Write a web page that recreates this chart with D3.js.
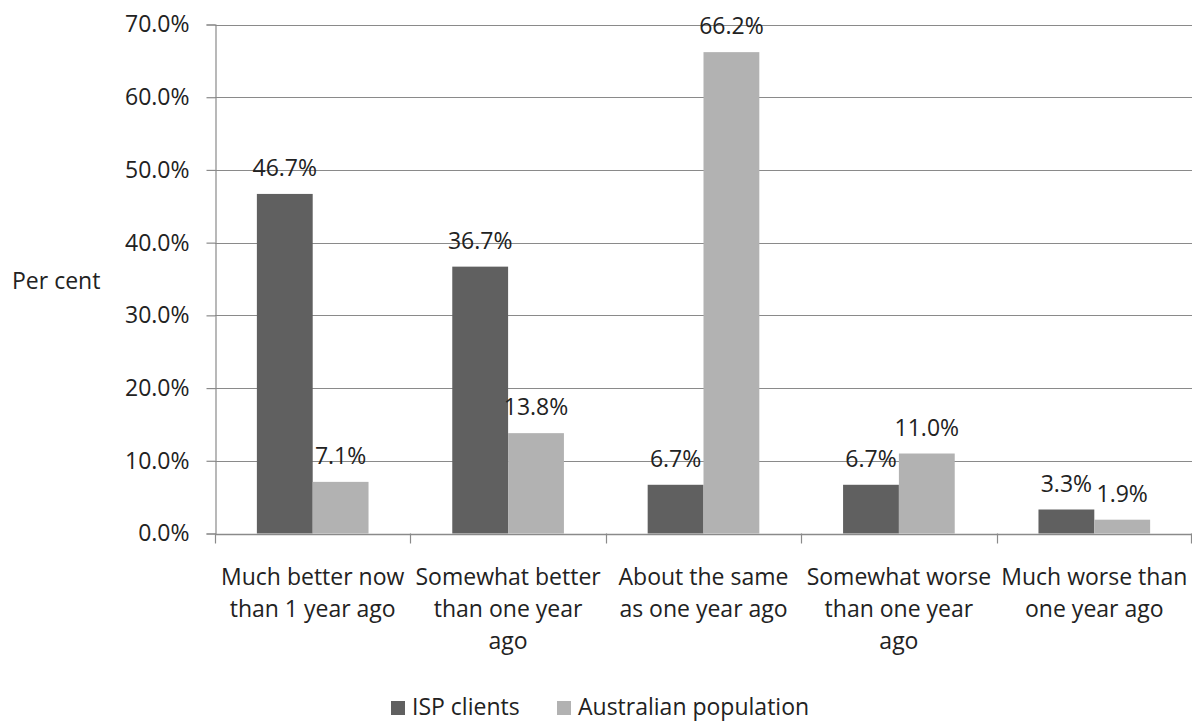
<!DOCTYPE html>
<html>
<head>
<meta charset="utf-8">
<script src="https://cdn.jsdelivr.net/npm/d3@7"></script>
<style>
  html, body { margin: 0; padding: 0; background: #ffffff; }
  svg text { font-family: "Open Sans", "Noto Sans", sans-serif; fill: #222222; }
</style>
</head>
<body>
<svg id="chart" width="1192" height="722"></svg>
<script>
// Self-rated change in circumstances compared with one year earlier
const categories = [
  ["Much better now", "than 1 year ago"],
  ["Somewhat better", "than one year", "ago"],
  ["About the same", "as one year ago"],
  ["Somewhat worse", "than one year", "ago"],
  ["Much worse than", "one year ago"]
];
const seriesNames = ["ISP clients", "Australian population"];
const ispClients = [0.467, 0.367, 0.067, 0.067, 0.033];
const australianPopulation = [0.071, 0.138, 0.662, 0.110, 0.019];
const yTicks = [0, 0.1, 0.2, 0.3, 0.4, 0.5, 0.6, 0.7];
const seriesColors = ["#606060", "#b2b2b2"];

const svg = d3.select("#chart");
const fontSize = 23;
const gridColor = "#8a8a8a";

const plot = { left: 215, right: 1192, top: 24.5, bottom: 533.5 };

const catKeys = categories.map((c, i) => i);
const x0 = d3.scaleBand().domain(catKeys).range([plot.left, plot.right]).padding(0);
const x1 = d3.scaleBand().domain(seriesNames).range([0, x0.bandwidth()])
  .paddingInner(0).paddingOuter(0.75);
const y = d3.scaleLinear().domain([0, 0.7]).range([plot.bottom, plot.top]);
const color = d3.scaleOrdinal().domain(seriesNames).range(seriesColors);
const pct = d3.format(".1%");

// Horizontal gridlines
svg.append("g")
  .selectAll("line")
  .data(yTicks.filter(d => d > 0))
  .join("line")
  .attr("x1", plot.left).attr("x2", plot.right)
  .attr("y1", d => Math.round(y(d)) + 0.5).attr("y2", d => Math.round(y(d)) + 0.5)
  .attr("stroke", gridColor).attr("stroke-width", 1.2);

// Y axis
const yAxis = svg.append("g")
  .attr("transform", `translate(${plot.left + 0.5},0)`)
  .call(d3.axisLeft(y).tickValues(yTicks).tickFormat(pct).tickSize(9).tickPadding(17));
yAxis.select(".domain").attr("stroke", gridColor).attr("stroke-width", 1.2);
yAxis.selectAll(".tick line").attr("stroke", gridColor).attr("stroke-width", 1.2);
yAxis.selectAll(".tick text")
  .style("font-size", fontSize + "px")
  .style("font-family", '"Open Sans", sans-serif')
  .attr("fill", "#222222");
yAxis.attr("font-size", null).attr("font-family", null);

// Bars
const data = categories.map((c, i) => ({
  key: i,
  values: [
    { series: seriesNames[0], value: ispClients[i] },
    { series: seriesNames[1], value: australianPopulation[i] }
  ]
}));

const groups = svg.append("g")
  .selectAll("g")
  .data(data)
  .join("g")
  .attr("transform", d => `translate(${x0(d.key)},0)`);

groups.selectAll("rect")
  .data(d => d.values)
  .join("rect")
  .attr("x", d => x1(d.series))
  .attr("width", x1.bandwidth())
  .attr("y", d => y(d.value))
  .attr("height", d => y(0) - y(d.value))
  .attr("fill", d => color(d.series));

groups.selectAll("text.value")
  .data(d => d.values)
  .join("text")
  .attr("class", "value")
  .attr("x", d => x1(d.series) + x1.bandwidth() / 2)
  .attr("y", d => y(d.value) - 18)
  .attr("text-anchor", "middle")
  .style("font-size", fontSize + "px")
  .text(d => pct(d.value));

// X axis line with category boundary ticks
svg.append("line")
  .attr("x1", plot.left).attr("x2", plot.right)
  .attr("y1", Math.round(y(0)) + 0.5).attr("y2", Math.round(y(0)) + 0.5)
  .attr("stroke", gridColor).attr("stroke-width", 1.5);

const boundaries = catKeys.map(k => x0(k)).concat([plot.right - 1]);
svg.append("g")
  .selectAll("line")
  .data(boundaries)
  .join("line")
  .attr("x1", d => Math.round(d) + 0.5).attr("x2", d => Math.round(d) + 0.5)
  .attr("y1", y(0)).attr("y2", y(0) + 10)
  .attr("stroke", gridColor).attr("stroke-width", 1.2);

// Category labels
const catLabels = svg.append("g")
  .selectAll("text")
  .data(categories.map((lines, i) => ({ lines, i })))
  .join("text")
  .attr("text-anchor", "middle")
  .style("font-size", fontSize + "px")
  .attr("transform", d => `translate(${x0(d.i) + x0.bandwidth() / 2},585)`);
catLabels.selectAll("tspan")
  .data(d => d.lines)
  .join("tspan")
  .attr("x", 0)
  .attr("y", (d, j) => j * 32)
  .text(d => d);

// Y axis title
svg.append("text")
  .attr("x", 12).attr("y", 289)
  .style("font-size", fontSize + "px")
  .text("Per cent");

// Legend
const legendItems = [
  { name: seriesNames[0], x: 391 },
  { name: seriesNames[1], x: 557 }
];
const legend = svg.append("g")
  .selectAll("g")
  .data(legendItems)
  .join("g")
  .attr("transform", d => `translate(${d.x},701)`);
legend.append("rect")
  .attr("width", 14).attr("height", 14)
  .attr("fill", d => color(d.name));
legend.append("text")
  .attr("x", 21).attr("y", 14)
  .style("font-size", fontSize + "px")
  .text(d => d.name);
</script>
</body>
</html>
